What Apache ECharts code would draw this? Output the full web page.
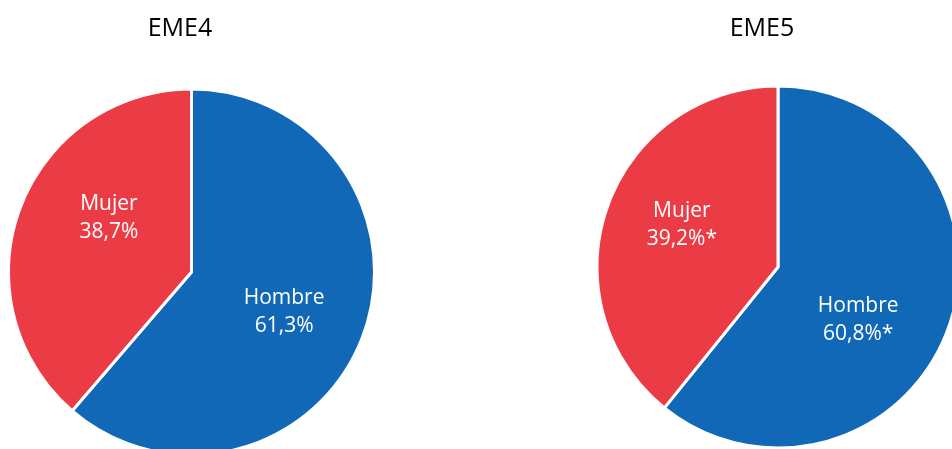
<!DOCTYPE html>
<html>
<head>
<meta charset="utf-8">
<script src="https://cdn.jsdelivr.net/npm/echarts@6/dist/echarts.min.js"></script>
<style>
  html, body { margin: 0; padding: 0; background: #fff; }
  #chart { width: 952px; height: 449px; }
</style>
</head>
<body>
<div id="chart"></div>
<script>
  var categories = ['Hombre', 'Mujer']
  var eme4Values = [61.3, 38.7]
  var eme5Values = [60.8, 39.2]
  var titles = ['EME4', 'EME5']
  var marks = ['', '*']

  var colors = ['#1068b6', '#eb3c46']
  var font = '"Open Sans", "Noto Sans", sans-serif'

  function fmt (v) {
    return v.toFixed(1).replace('.', ',') + '%'
  }

  function pieData (values, offsets) {
    return categories.map(function (name, i) {
      return {
        name: name,
        value: values[i],
        itemStyle: { color: colors[i] },
        label: { offset: offsets[i] }
      }
    })
  }

  function pieSeries (values, mark, center, radius, offsets) {
    return {
      type: 'pie',
      center: center,
      radius: radius,
      startAngle: 90,
      clockwise: true,
      silent: true,
      itemStyle: { borderColor: '#fff', borderWidth: 3 },
      label: {
        position: 'inside',
        color: '#fff',
        fontFamily: font,
        fontSize: 21,
        lineHeight: 28,
        formatter: function (p) {
          return p.name + '\n' + fmt(p.value) + mark
        }
      },
      labelLine: { show: false },
      data: pieData(values, offsets)
    }
  }

  var titleStyle = { fontFamily: font, fontSize: 25, fontWeight: 'normal', color: '#000' }

  var chart = echarts.init(document.getElementById('chart'))
  chart.setOption({
    animation: false,
    title: [
      { text: titles[0], left: 175, top: 11, textAlign: 'center', textStyle: titleStyle },
      { text: titles[1], left: 757, top: 11, textAlign: 'center', textStyle: titleStyle }
    ],
    series: [
      pieSeries(eme4Values, marks[0], [191.5, 272], 183, [[4, 7], [6, -21]]),
      pieSeries(eme5Values, marks[1], [778, 267], 181, [[-8, 22], [-8, -11]])
    ]
  })
</script>
</body>
</html>
